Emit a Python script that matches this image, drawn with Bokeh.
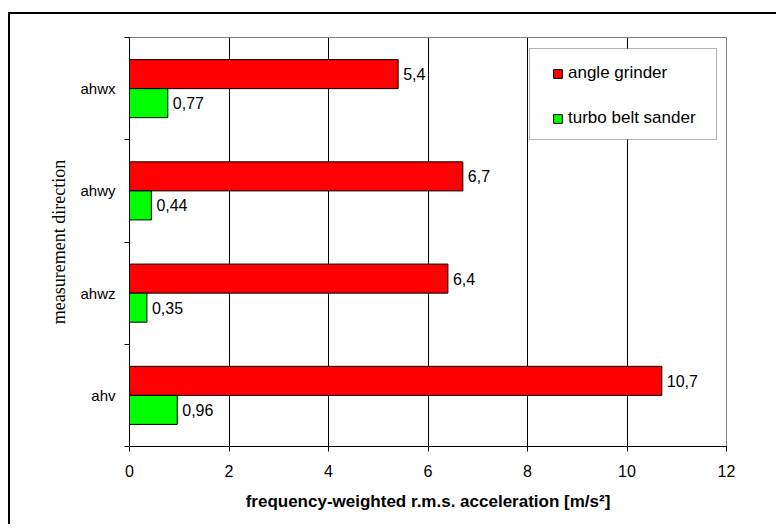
from bokeh.plotting import figure
from bokeh.models import (ColumnDataSource, Range1d, FixedTicker, LabelSet,
                          Legend, LegendItem, BoxAnnotation, Node)
from bokeh.core.properties import value
from bokeh.transform import dodge
from bokeh.embed import file_html
from bokeh.resources import INLINE

# ---- data ----
categories = ["ahwx", "ahwy", "ahwz", "ahv"]
angle_grinder = [5.4, 6.7, 6.4, 10.7]
turbo_belt_sander = [0.77, 0.44, 0.35, 0.96]
series_names = ["angle grinder", "turbo belt sander"]
x_ticks = [0, 2, 4, 6, 8, 10, 12]

n = len(categories)
pos = [n - i - 0.5 for i in range(n)]


def fmt(v):
    return f"{v:g}".replace(".", ",")


src = ColumnDataSource(dict(
    cat=categories, pos=pos,
    ag=angle_grinder, tbs=turbo_belt_sander,
    ag_lbl=[fmt(v) for v in angle_grinder],
    tbs_lbl=[fmt(v) for v in turbo_belt_sander],
))

FONT = "Liberation Sans"
W, H = 776, 524
FL, FT, FR, FB = 129, 37, 726, 446   # frame edges in canvas px
p = figure(width=W, height=H, x_range=Range1d(0, 12), y_range=Range1d(0, n),
           output_backend="svg", toolbar_location=None,
           min_border_left=FL, min_border_top=FT,
           min_border_right=W - FR, min_border_bottom=H - FB,
           background_fill_color="white", border_fill_color=None)

# outer frame of the chart area (open to the right and bottom) drawn as CSS
p.styles = {
    "background-color": "white",
    "background-image": "linear-gradient(#000,#000), linear-gradient(#000,#000)",
    "background-size": "2px 100%, 100% 2px",
    "background-position": "8px 12px, 8px 12px",
    "background-repeat": "no-repeat",
}

off = 0.142
bh = 0.284
r1 = p.hbar(y=dodge("pos", off, range=p.y_range), left=0, right="ag", height=bh,
            source=src, fill_color="#ff0000", line_color="black", line_width=1)
r2 = p.hbar(y=dodge("pos", -off, range=p.y_range), left=0, right="tbs", height=bh,
            source=src, fill_color="#00ff00", line_color="black", line_width=1)

for col, lbl, d in (("ag", "ag_lbl", off), ("tbs", "tbs_lbl", -off)):
    p.add_layout(LabelSet(x=col, y=dodge("pos", d, range=p.y_range), text=lbl,
                          source=src, x_offset=5, text_baseline="middle",
                          text_align="left", text_font=value(FONT),
                          text_font_size="16px", text_color="black"))

# x axis
xa = p.xaxis[0]
xa.ticker = FixedTicker(ticks=x_ticks)
xa.major_tick_out = 5
xa.major_tick_in = 0
xa.minor_tick_line_color = None
xa.axis_line_color = "black"
xa.major_tick_line_color = "black"
xa.major_label_text_font = FONT
xa.major_label_text_font_size = "16px"
xa.major_label_text_color = "black"
xa.major_label_standoff = 13
xa.axis_label = "frequency-weighted r.m.s. acceleration [m/s²]"
xa.axis_label_text_font = FONT
xa.axis_label_text_font_size = "17px"
xa.axis_label_text_font_style = "bold"
xa.axis_label_text_color = "black"
xa.axis_label_standoff = 12

# y axis
ya = p.yaxis[0]
ya.ticker = FixedTicker(ticks=pos, minor_ticks=list(range(n + 1)))
ya.major_label_overrides = {pp: c for pp, c in zip(pos, categories)}
ya.major_tick_in = 0
ya.major_tick_out = 0
ya.minor_tick_in = 0
ya.minor_tick_out = 5
ya.minor_tick_line_color = "black"
ya.axis_line_color = "black"
ya.major_label_text_font = FONT
ya.major_label_text_font_size = "15px"
ya.major_label_text_color = "black"
ya.major_label_standoff = 9
ya.axis_label = "measurement direction"
ya.axis_label_text_font = "Liberation Serif"
ya.axis_label_text_font_size = "18px"
ya.axis_label_text_font_style = "normal"
ya.axis_label_text_color = "black"
ya.axis_label_standoff = 8

# grid / outline
p.ygrid.visible = False
p.xgrid.ticker = FixedTicker(ticks=x_ticks[1:-1])
p.xgrid.grid_line_color = "black"
p.xgrid.grid_line_width = 1
p.outline_line_color = "#808080"
p.outline_line_width = 1

# legend box
p.add_layout(BoxAnnotation(
    left=Node(target="frame", symbol="left", offset=529 - FL),
    right=Node(target="frame", symbol="left", offset=716 - FL),
    top=Node(target="frame", symbol="top", offset=48 - FT),
    bottom=Node(target="frame", symbol="top", offset=139 - FT),
    fill_color="white", fill_alpha=1, line_color="black", line_width=1))

legend = Legend(items=[LegendItem(label=series_names[0], renderers=[r1]),
                       LegendItem(label=series_names[1], renderers=[r2])],
                location=(552 - FL, 318), padding=0, margin=0, spacing=25,
                glyph_width=11, glyph_height=11, label_standoff=5,
                label_height=20, label_text_font=FONT,
                label_text_font_size="17px", label_text_color="black",
                border_line_color=None, background_fill_alpha=0)
p.add_layout(legend)

open("out.html", "w").write(file_html(p, INLINE))
